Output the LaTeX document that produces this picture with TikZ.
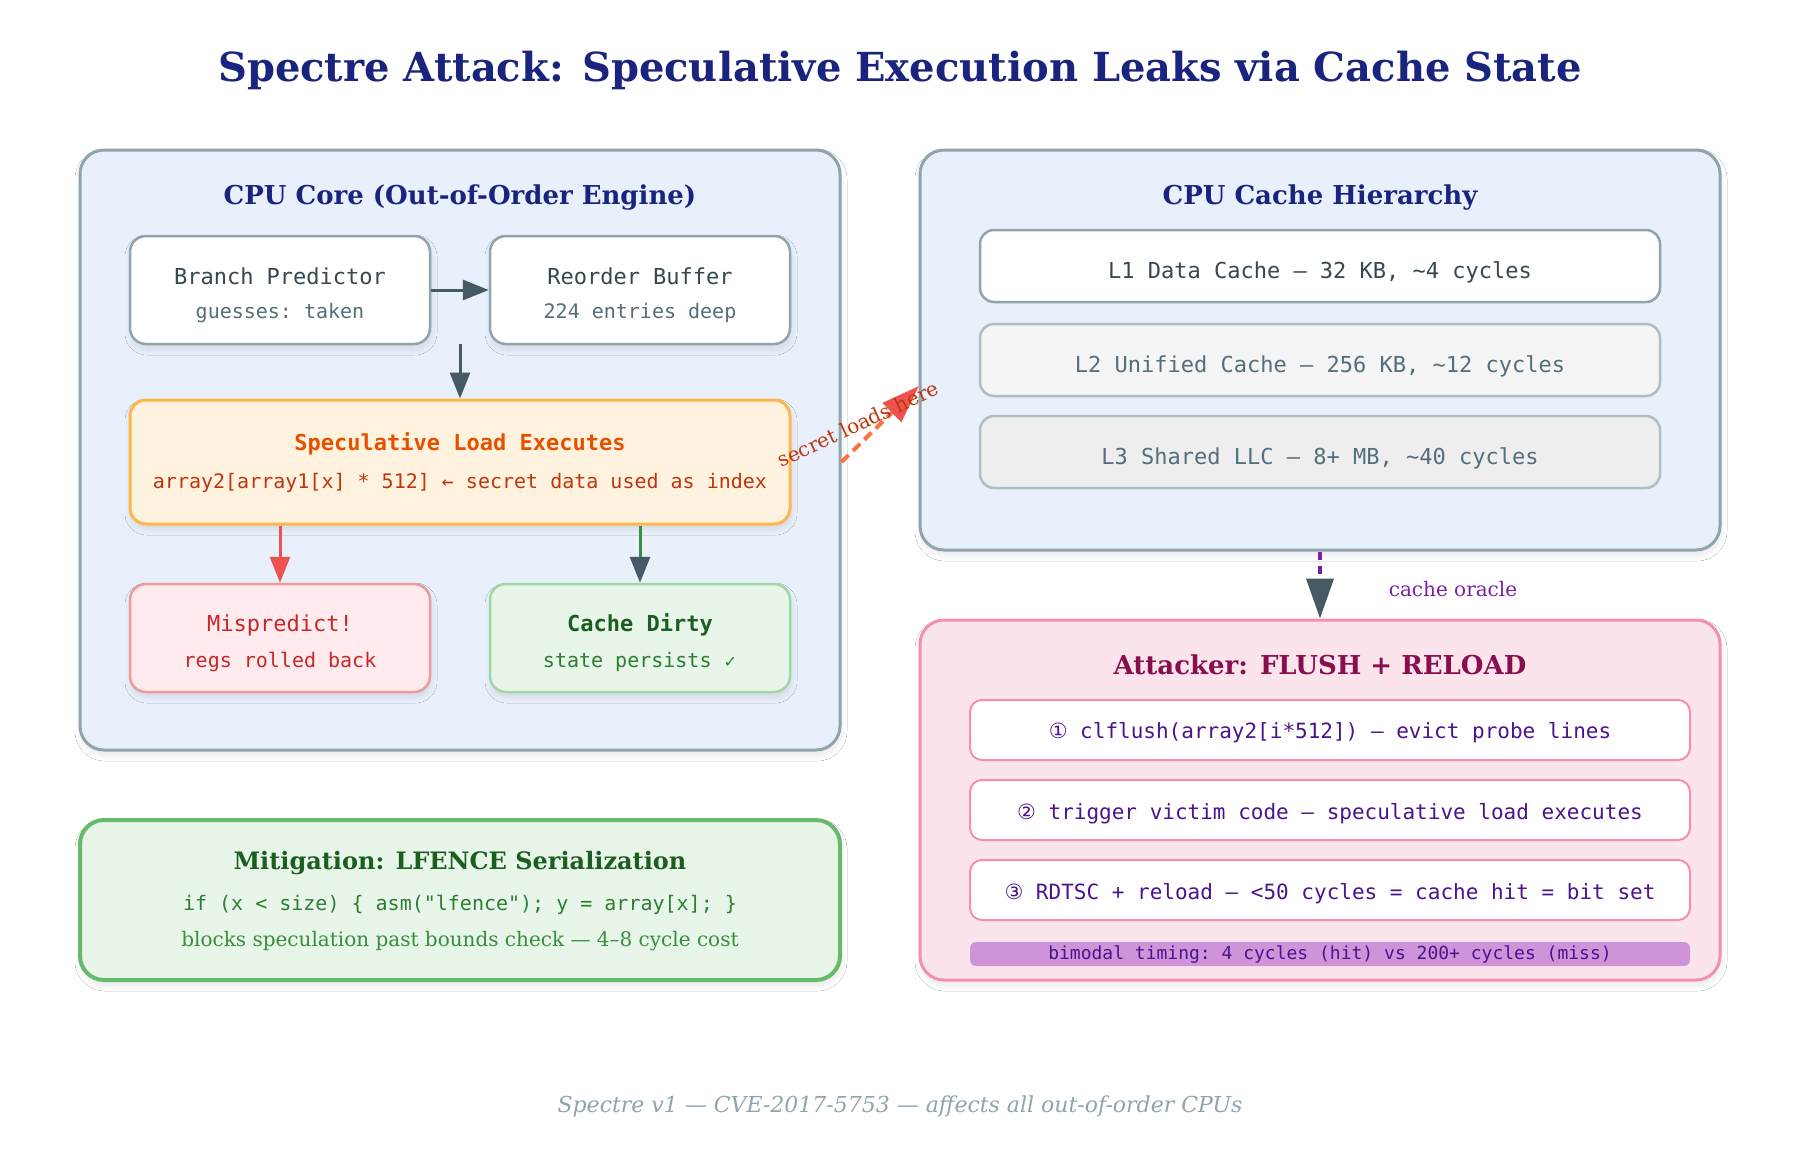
\documentclass[tikz,border=0pt]{standalone}
\usepackage{fontspec}
\setmainfont{DejaVu Serif}
\setmonofont{DejaVu Sans Mono}
\newfontfamily\symfont{DejaVu Sans}
\usetikzlibrary{arrows.meta,shadows.blur}
\newcommand{\fsz}[1]{\fontsize{#1}{#1}\selectfont}
\definecolor{navy}{HTML}{1A237E}
\definecolor{slate}{HTML}{455A64}
\definecolor{ink}{HTML}{37474F}
\definecolor{inklt}{HTML}{546E7A}
\definecolor{edge}{HTML}{90A4AE}
\definecolor{edgelt}{HTML}{B0BEC5}
\definecolor{panelbg}{HTML}{E8F0FC}
\definecolor{specbg}{HTML}{FFF3E0}
\definecolor{specedge}{HTML}{FFB74D}
\definecolor{spechead}{HTML}{E65100}
\definecolor{spectxt}{HTML}{BF360C}
\definecolor{missbg}{HTML}{FFEBEE}
\definecolor{missedge}{HTML}{EF9A9A}
\definecolor{misstxt}{HTML}{C62828}
\definecolor{redarr}{HTML}{EF5350}
\definecolor{leakline}{HTML}{FF7043}
\definecolor{grnbg}{HTML}{E8F5E9}
\definecolor{grnedge}{HTML}{A5D6A7}
\definecolor{grnedgedk}{HTML}{66BB6A}
\definecolor{grndk}{HTML}{1B5E20}
\definecolor{grn}{HTML}{2E7D32}
\definecolor{grnlt}{HTML}{388E3C}
\definecolor{atkbg}{HTML}{FCE4EC}
\definecolor{atkedge}{HTML}{F48FB1}
\definecolor{atkhead}{HTML}{880E4F}
\definecolor{purp}{HTML}{4A148C}
\definecolor{oracle}{HTML}{7B1FA2}
\definecolor{barbg}{HTML}{CE93D8}
\definecolor{lvtwo}{HTML}{F5F5F5}
\definecolor{lvthree}{HTML}{EEEEEE}

\begin{document}
\begin{tikzpicture}[x=1pt,y=-1pt,
  softshadow/.style={blur shadow={shadow blur steps=20,shadow xshift=1pt,shadow yshift=-5pt,shadow opacity=10,shadow blur radius=6pt}},
  panel/.style={rounded corners=24pt,line width=3pt,softshadow},
  box/.style={rounded corners=16pt,line width=2.5pt,minimum width=300pt,minimum height=108pt,softshadow},
  level/.style={rounded corners=14pt,line width=2.5pt,minimum width=680pt,minimum height=72pt},
  stepbox/.style={rounded corners=12pt,line width=2pt,draw=atkedge,fill=white,minimum width=720pt,minimum height=60pt},
  head/.style={font=\fsz{26}\bfseries,text=navy},
  mono/.style={font=\ttfamily\fsz{#1}},
  monob/.style={font=\ttfamily\bfseries\fsz{#1}},
  garrow/.style={draw=slate,line width=3pt,-{Triangle[length=26pt,width=20pt]}}]

\fill[white] (0,0) rectangle (1800,1160);
\useasboundingbox (0,0) rectangle (1800,1160);

\node[font=\fsz{40}\bfseries,text=navy] (title) at (900,70) {Spectre Attack: Speculative Execution Leaks via Cache State};

\node[panel,draw=edge,fill=panelbg,minimum width=760pt,minimum height=600pt] (core) at (460,450) {};
\node[panel,draw=edge,fill=panelbg,minimum width=800pt,minimum height=400pt] (cache) at (1320,350) {};
\node[panel,draw=atkedge,fill=atkbg,minimum width=800pt,minimum height=360pt] (atk) at (1320,800) {};
\node[panel,draw=grnedgedk,fill=grnbg,line width=4pt,minimum width=760pt,minimum height=160pt] (mit) at (460,900) {};

\node[head] (coret) at (460,198) {CPU Core (Out-of-Order Engine)};
\node[box,draw=edge,fill=white] (bp) at (280,290) {};
\node[box,draw=edge,fill=white] (rob) at (640,290) {};
\node[box,draw=specedge,fill=specbg,line width=3pt,minimum width=660pt,minimum height=124pt] (spec) at (460,462) {};
\node[box,draw=missedge,fill=missbg] (misp) at (280,638) {};
\node[box,draw=grnedge,fill=grnbg] (dirty) at (640,638) {};

\node[mono=22,text=ink] (bpa) at (280,276) {Branch Predictor};
\node[mono=20,text=inklt] (bpb) at (280,313) {guesses: taken};
\node[mono=22,text=ink] (roba) at (640,276) {Reorder Buffer};
\node[mono=20,text=inklt] (robb) at (640,313) {224 entries deep};
\node[monob=22,text=spechead] (speca) at (460,444) {Speculative Load Executes};
\node[mono=20,text=spectxt] (specb) at (460,483) {array2[array1[x] * 512] ← secret data used as index};
\node[mono=22,text=misstxt] (mispa) at (280,625) {Mispredict!};
\node[mono=20,text=misstxt] (mispb) at (280,662) {regs rolled back};
\node[monob=22,text=grndk] (dirtya) at (640,625) {Cache Dirty};
\node[mono=20,text=grn] (dirtyb) at (640,662) {state persists {\symfont\fsz{16}✓}};

\coordinate (fork) at (460,344);
\draw[garrow] (bp) -- (rob);
\draw[garrow] (fork) -- (spec);
\draw[line width=3pt,draw=redarr,-{Triangle[length=26pt,width=20pt]}] (spec.south -| misp.north) -- (misp.north);
\draw[line width=3pt,draw=grnlt,-{Triangle[length=26pt,width=20pt,color=slate]}] (spec.south -| dirty.north) -- (dirty.north);

\node[head] (cachet) at (1320,198) {CPU Cache Hierarchy};
\node[level,draw=edge,fill=white] (lone) at (1320,266) {};
\node[level,draw=edgelt,fill=lvtwo] (ltwo) at (1320,360) {};
\node[level,draw=edgelt,fill=lvthree] (lthree) at (1320,452) {};
\node[mono=22,text=ink] (lonet) at (1320,272) {L1 Data Cache — 32 KB, \textasciitilde4 cycles};
\node[mono=22,text=inklt] (ltwot) at (1320,366) {L2 Unified Cache — 256 KB, \textasciitilde12 cycles};
\node[mono=22,text=inklt] (lthreet) at (1320,458) {L3 Shared LLC — 8+ MB, \textasciitilde40 cycles};

\coordinate (leakto) at (919,386);
\draw[draw=leakline,line width=4pt,dash pattern=on 10pt off 6pt,-{Triangle[length=38pt,width=26pt,color=redarr]}] (core.east |- spec.east) -- (leakto);
\node[rotate=25,font=\fsz{20},text=spectxt] (leakt) at (858,424) {secret loads here};

\draw[draw=oracle,line width=4pt,dash pattern=on 8pt off 6pt,-{Triangle[length=40pt,width=27pt,color=slate]}] (cache.south) -- (atk.north);
\node[font=\fsz{20},text=oracle] (oraclet) at (1453,589) {cache oracle};

\node[font=\fsz{26}\bfseries,text=atkhead] (atkt) at (1320,665) {Attacker: FLUSH + RELOAD};
\node[stepbox] (sone) at (1330,730) {};
\node[stepbox] (stwo) at (1330,810) {};
\node[stepbox] (sthree) at (1330,890) {};
\node[rounded corners=6pt,fill=barbg,minimum width=720pt,minimum height=24pt] (bar) at (1330,954) {};
\node[mono=21,text=purp] (sonet) at (1330,733) {{\symfont ①} clflush(array2[i*512]) — evict probe lines};
\node[mono=21,text=purp] (stwot) at (1330,814) {{\symfont ②} trigger victim code — speculative load executes};
\node[mono=21,text=purp] (sthreet) at (1330,894) {{\symfont ③} RDTSC + reload — <50 cycles = cache hit = bit set};
\node[mono=18,text=purp] (bart) at (1330,955) {bimodal timing: 4 cycles (hit) vs 200+ cycles (miss)};

\node[font=\fsz{24}\bfseries,text=grndk] (mitt) at (460,863) {Mitigation: LFENCE Serialization};
\node[mono=20,text=grn] (mitcode) at (460,905) {if (x < size) \{ asm("lfence"); y = array[x]; \}};
\node[font=\fsz{20},text=grnlt] (mitnote) at (460,941) {blocks speculation past bounds check — 4–8 cycle cost};

\node[font=\fsz{22}\itshape,text=edge] (foot) at (900,1106) {Spectre v1 — CVE-2017-5753 — affects all out-of-order CPUs};
\end{tikzpicture}
\end{document}
